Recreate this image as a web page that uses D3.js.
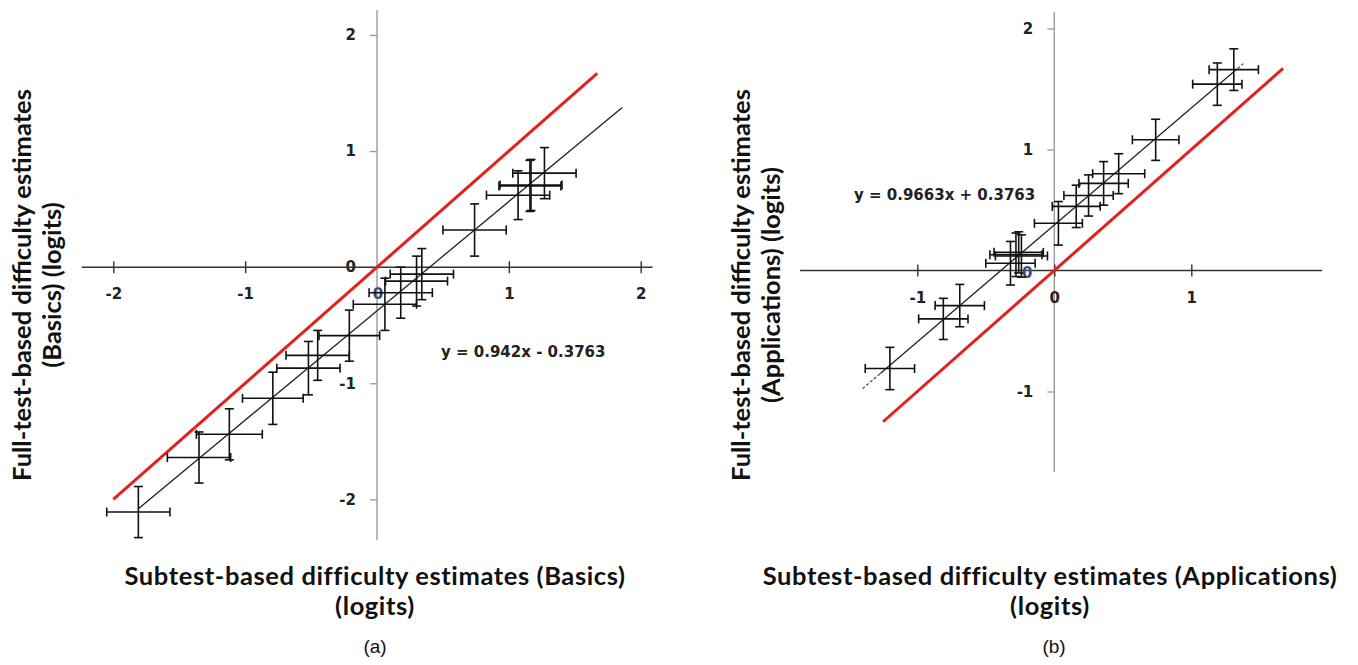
<!DOCTYPE html>
<html>
<head>
<meta charset="utf-8">
<script src="https://cdn.jsdelivr.net/npm/d3@7"></script>
<style>
  body { margin: 0; background: #fff; }
  .tick text { font-family: "DejaVu Sans", Verdana, sans-serif; font-weight: bold; font-size: 15px; fill: #222; }
  .eq { font-family: "DejaVu Sans", Verdana, sans-serif; font-weight: bold; font-size: 15px; fill: #222; }
  .axis-title { font-family: Lato, "Open Sans", sans-serif; font-weight: bold; fill: #111; }
  .x-title { font-size: 25.5px; letter-spacing: 0.6px; }
  .y-title { font-size: 25.5px; }
  .caption { font-family: "Liberation Sans", Arial, sans-serif; font-size: 19px; fill: #111; }
</style>
</head>
<body>
<div id="chart"></div>
<script>
// (a) Basics: subtest-based (x) vs full-test-based (y) difficulty, logits
const basicsX    = [-1.81, -1.35, -1.12, -0.79, -0.52, -0.45, -0.21, 0.06, 0.18, 0.30, 0.34, 0.74, 1.07, 1.16, 1.168, 1.27];
const basicsY    = [-2.11, -1.64, -1.44, -1.13, -0.87, -0.76, -0.59, -0.32, -0.22, -0.12, -0.06, 0.32, 0.62, 0.70, 0.708, 0.81];
const basicsXErr = [0.24, 0.24, 0.25, 0.23, 0.24, 0.24, 0.23, 0.24, 0.24, 0.235, 0.24, 0.24, 0.24, 0.235, 0.235, 0.24];
const basicsYErr = [0.22, 0.22, 0.22, 0.225, 0.23, 0.215, 0.22, 0.225, 0.22, 0.215, 0.22, 0.225, 0.21, 0.22, 0.22, 0.22];

// (b) Applications
const applX    = [-1.20, -0.81, -0.69, -0.32, -0.28, -0.26, -0.24, 0.03, 0.16, 0.25, 0.36, 0.47, 0.74, 1.19, 1.31];
const applY    = [-0.81, -0.40, -0.29, 0.06, 0.13, 0.15, 0.12, 0.39, 0.53, 0.62, 0.72, 0.80, 1.08, 1.54, 1.66];
const applXErr = [0.18, 0.18, 0.18, 0.18, 0.19, 0.18, 0.19, 0.175, 0.175, 0.18, 0.18, 0.19, 0.17, 0.18, 0.18];
const applYErr = [0.175, 0.17, 0.175, 0.18, 0.18, 0.17, 0.175, 0.18, 0.175, 0.17, 0.18, 0.165, 0.17, 0.175, 0.172];

// trend lines
const basicsSlope = 0.942, basicsIntercept = -0.3763;
const applSlope = 0.9663, applIntercept = 0.3763;

const svg = d3.select('#chart').append('svg')
  .attr('width', 1358)
  .attr('height', 665)
  .style('background', '#fff');

const plainNum = d => String(d);

function drawPanel(p) {
  const x = d3.scaleLinear().domain(p.xDomain).range(p.xRange);
  const y = d3.scaleLinear().domain(p.yDomain).range(p.yRange);
  const g = svg.append('g');
  const x0 = x(0), y0 = y(0);

  // vertical (gray) axis
  g.append('line')
    .attr('x1', x0).attr('x2', x0)
    .attr('y1', y(p.yExtent[1])).attr('y2', y(p.yExtent[0]))
    .attr('stroke', '#9a9a9a').attr('stroke-width', 1.4);
  const yAxis = g.append('g')
    .attr('transform', 'translate(' + x0 + ',0)')
    .call(d3.axisLeft(y).tickValues(p.yTicks).tickSize(7).tickPadding(p.yPad).tickFormat(plainNum));
  yAxis.select('.domain').remove();
  yAxis.selectAll('.tick line').attr('stroke', '#9a9a9a').attr('stroke-width', 1.3);

  // horizontal (dark) axis
  g.append('line')
    .attr('x1', x(p.xExtent[0])).attr('x2', x(p.xExtent[1]))
    .attr('y1', y0).attr('y2', y0)
    .attr('stroke', '#333').attr('stroke-width', 1.5);
  const xAxis = g.append('g')
    .attr('transform', 'translate(0,' + (y0 - 6) + ')')
    .call(d3.axisBottom(x).tickValues(p.xTicks).tickSize(12).tickPadding(p.xPad).tickFormat(plainNum));
  xAxis.select('.domain').remove();
  xAxis.selectAll('.tick line').attr('stroke', '#333').attr('stroke-width', 1.4);

  // the stray "0" label drawn off the axis in the original
  g.append('text')
    .attr('x', x0 + p.zero[0]).attr('y', y0 + p.zero[1])
    .attr('text-anchor', 'middle').attr('dy', '0.35em')
    .attr('class', 'eq')
    .style('font-size', '15px')
    .style('fill', '#33415c')
    .style('stroke', '#7fb0dd').style('stroke-width', 0.4)
    .text('0');

  // identity line
  g.append('line')
    .attr('x1', x(p.identity[0])).attr('y1', y(p.identity[0]))
    .attr('x2', x(p.identity[1])).attr('y2', y(p.identity[1]))
    .attr('stroke', '#e3201c').attr('stroke-width', 3);

  // trend line (solid part + dashed extensions)
  const f = v => p.slope * v + p.intercept;
  g.append('line')
    .attr('x1', x(p.trend[0])).attr('y1', y(f(p.trend[0])))
    .attr('x2', x(p.trend[1])).attr('y2', y(f(p.trend[1])))
    .attr('stroke', '#222').attr('stroke-width', 1.3);
  p.dashed.forEach(seg => {
    g.append('line')
      .attr('x1', x(seg[0])).attr('y1', y(f(seg[0])))
      .attr('x2', x(seg[1])).attr('y2', y(f(seg[1])))
      .attr('stroke', '#444').attr('stroke-width', 1.2)
      .attr('stroke-dasharray', '3,2');
  });

  // error bar crosses
  const pts = p.xs.map((v, i) => ({ x: v, y: p.ys[i], ex: p.xErr[i], ey: p.yErr[i] }));
  const cap = 4.5;
  const bars = g.append('g')
    .attr('stroke', '#111').attr('stroke-width', 1.6)
    .selectAll('g').data(pts).enter().append('g');
  bars.append('line')
    .attr('x1', d => x(d.x - d.ex)).attr('x2', d => x(d.x + d.ex))
    .attr('y1', d => y(d.y)).attr('y2', d => y(d.y));
  bars.append('line')
    .attr('x1', d => x(d.x)).attr('x2', d => x(d.x))
    .attr('y1', d => y(d.y - d.ey)).attr('y2', d => y(d.y + d.ey));
  [-1, 1].forEach(s => {
    bars.append('line')
      .attr('x1', d => x(d.x + s * d.ex)).attr('x2', d => x(d.x + s * d.ex))
      .attr('y1', d => y(d.y) - cap).attr('y2', d => y(d.y) + cap);
    bars.append('line')
      .attr('x1', d => x(d.x) - cap).attr('x2', d => x(d.x) + cap)
      .attr('y1', d => y(d.y + s * d.ey)).attr('y2', d => y(d.y + s * d.ey));
  });

  // equation
  g.append('text')
    .attr('class', 'eq')
    .attr('x', p.eqPos[0]).attr('y', p.eqPos[1])
    .attr('dy', '0.35em')
    .text(p.eq);

  // axis titles
  const yt = g.append('text')
    .attr('class', 'axis-title y-title')
    .attr('text-anchor', 'middle')
    .attr('transform', 'translate(' + p.yTitlePos[0] + ',' + p.yTitlePos[1] + ') rotate(-90)');
  p.yTitle.forEach((t, i) => {
    yt.append('tspan').attr('x', 0).attr('y', i * 30).attr('dy', '0.35em').text(t);
  });
  p.xTitle.forEach((t, i) => {
    g.append('text')
      .attr('class', 'axis-title x-title')
      .attr('text-anchor', 'middle')
      .attr('x', p.xTitlePos[0]).attr('y', p.xTitlePos[1] + i * 30)
      .attr('dy', '0.35em')
      .text(t);
  });

  g.append('text')
    .attr('class', 'caption')
    .attr('text-anchor', 'middle')
    .attr('x', p.captionPos[0]).attr('y', p.captionPos[1])
    .attr('dy', '0.35em')
    .text(p.caption);
}

drawPanel({
  xs: basicsX, ys: basicsY, xErr: basicsXErr, yErr: basicsYErr,
  xDomain: [-2, 2], xRange: [113.3, 640.7],
  yDomain: [-2, 2], yRange: [499.3, 35],
  xExtent: [-2.24, 2.09], yExtent: [-2.35, 2.215],
  xTicks: [-2, -1, 1, 2], yTicks: [-2, -1, 0, 1, 2],
  xPad: 15, yPad: 14, zero: [1, 27],
  identity: [-2, 1.67],
  slope: basicsSlope, intercept: basicsIntercept,
  trend: [-1.81, 1.86], dashed: [],
  eq: 'y = 0.942x - 0.3763', eqPos: [441, 352],
  yTitle: ['Full-test-based difficulty estimates', '(Basics) (logits)'], yTitlePos: [22, 285],
  xTitle: ['Subtest-based difficulty estimates (Basics)', '(logits)'], xTitlePos: [375, 576],
  caption: '(a)', captionPos: [375, 646]
});

drawPanel({
  xs: applX, ys: applY, xErr: applXErr, yErr: applYErr,
  xDomain: [-1, 1], xRange: [917.3, 1191.3],
  yDomain: [-1, 1], yRange: [391.5, 149.5],
  xExtent: [-1.856, 1.954], yExtent: [-1.665, 2.136],
  xTicks: [-1, 0, 1], yTicks: [-1, 1, 2],
  xPad: 16, yPad: 14, zero: [-27, 2],
  identity: [-1.25, 1.67],
  slope: applSlope, intercept: applIntercept,
  trend: [-1.27, 1.31], dashed: [[-1.40, -1.27], [1.31, 1.38]],
  eq: 'y = 0.9663x + 0.3763', eqPos: [854, 195],
  yTitle: ['Full-test-based difficulty estimates', '(Applications) (logits)'], yTitlePos: [741, 285],
  xTitle: ['Subtest-based difficulty estimates (Applications)', '(logits)'], xTitlePos: [1050, 576],
  caption: '(b)', captionPos: [1054, 646]
});
</script>
</body>
</html>
